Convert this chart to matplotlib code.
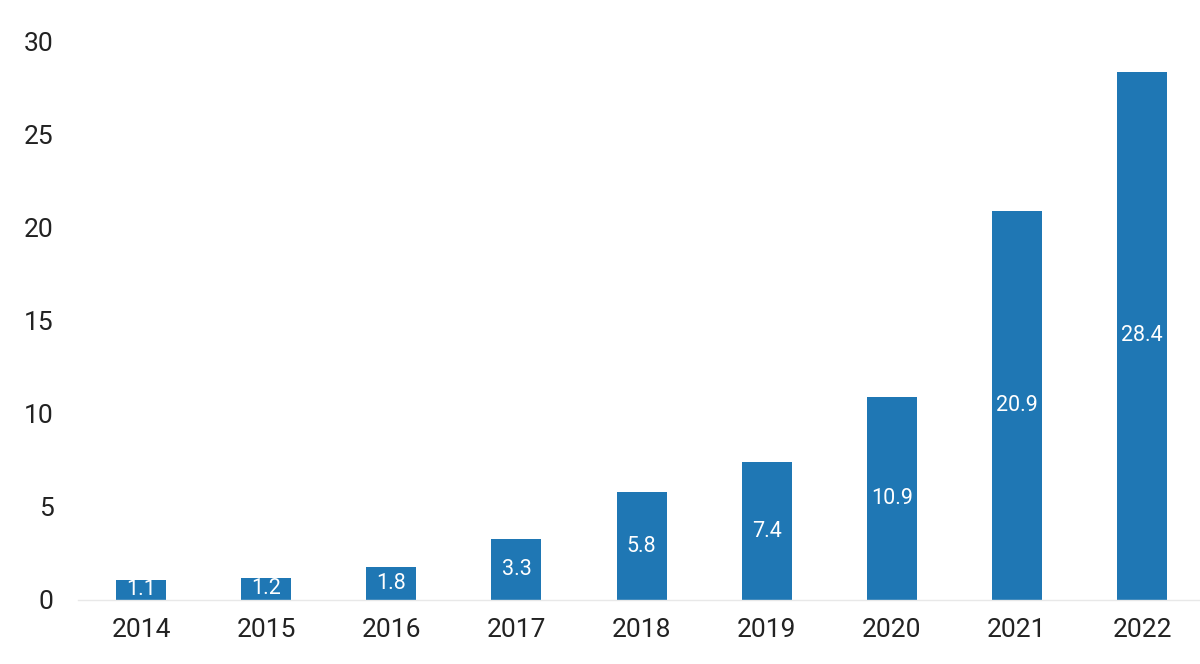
import matplotlib
matplotlib.use("Agg")
import matplotlib.pyplot as plt

years = ["2014", "2015", "2016", "2017", "2018", "2019", "2020", "2021", "2022"]
values = [1.1, 1.2, 1.8, 3.3, 5.8, 7.4, 10.9, 20.9, 28.4]
yticks = [0, 5, 10, 15, 20, 25, 30]

plt.rcParams['font.family'] = ['Roboto', 'DejaVu Sans']

fig = plt.figure(figsize=(12, 6.64), dpi=100)
ax = fig.add_axes([0.0654, 0.0964, 0.9385, 0.8404])

x = range(len(years))
bars = ax.bar(x, values, width=0.4, color="#1f77b4", zorder=2)
for b, v in zip(bars, values):
    ax.text(b.get_x() + b.get_width() / 2, v / 2, "{:.1f}".format(v),
            ha="center", va="center", color="white", fontsize=15.5, zorder=3)

ax.set_xlim(-0.5, len(years) - 0.5)
ax.set_ylim(0, 30)
ax.set_xticks(list(x))
ax.set_xticklabels(years)
ax.set_yticks(yticks)
ax.tick_params(axis="both", length=0, labelsize=19, colors="#222222")
ax.tick_params(axis="x", pad=13)
ax.tick_params(axis="y", pad=18)

for side in ["top", "right", "left"]:
    ax.spines[side].set_visible(False)
ax.spines["bottom"].set_color("#e8e8e8")
ax.spines["bottom"].set_linewidth(1)

fig.savefig("out.png", dpi=100)
